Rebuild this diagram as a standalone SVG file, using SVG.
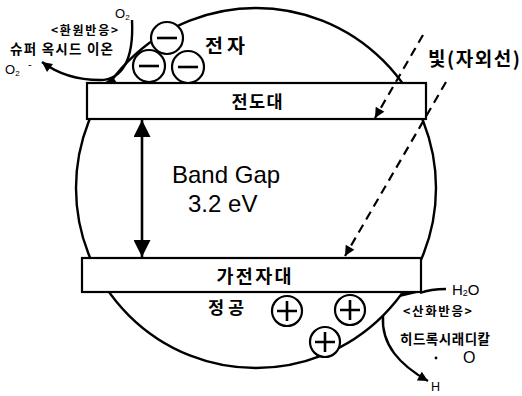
<svg xmlns="http://www.w3.org/2000/svg" width="522" height="396" viewBox="0 0 522 396">
<style>
.ln{fill:none;stroke:#000;stroke-width:2.4}
.band{fill:#fff;stroke:#000;stroke-width:2.2}
.pt{fill:#fff;stroke:#000;stroke-width:2.2}
.sg{stroke:#000;stroke-width:2.6;fill:none}
.ko{font-family:"Noto Sans CJK KR","Noto Sans",sans-serif;fill:#000;font-weight:700}
.en{font-family:"Liberation Sans",Arial,sans-serif;fill:#000}
.dash{fill:none;stroke:#000;stroke-width:2.2;stroke-dasharray:9 6}
</style>
<defs>
<marker id="ah" viewBox="0 0 10 10" refX="10" refY="5" markerWidth="12" markerHeight="10" markerUnits="userSpaceOnUse" orient="auto">
<path d="M0,0 L10,5 L0,10 z" fill="#000"/>
</marker>
<marker id="big" viewBox="0 0 10 10" refX="10" refY="5" markerWidth="25" markerHeight="17" markerUnits="userSpaceOnUse" orient="auto-start-reverse">
<path d="M0,0 L10,5 L0,10 z" fill="#000"/>
</marker>
</defs>
<rect width="522" height="396" fill="#fff"/>
<g id="particle">
<circle cx="256" cy="188" r="180" class="ln"/>
</g>
<g id="connectors">
<path class="ln" d="M132,20 C134,60 122,80 100,80 C78,80 58,74 42,62" marker-end="url(#ah)"/>
<polygon points="104,83 113,77 117,83" fill="#000"/>
<polygon points="400,297 421,292 403,292" fill="#000"/>
<path class="ln" d="M420,293 C428,290 436,289 446,289"/>
<path class="ln" d="M383,316 C381,345 400,365 428,381" marker-end="url(#ah)"/>
</g>
<g id="conduction-band">
<rect x="87" y="83" width="339" height="36" class="band"/>
<text x="257" y="108" class="ko" font-size="17.5" text-anchor="middle" textLength="51">전도대</text>
</g>
<g id="valence-band">
<rect x="82" y="258" width="339" height="34" class="band"/>
<text x="254" y="283" class="ko" font-size="18.5" text-anchor="middle" textLength="75">가전자대</text>
</g>
<g id="band-gap">
<line x1="142" y1="120" x2="142" y2="257" stroke="#000" stroke-width="2.6" marker-start="url(#big)" marker-end="url(#big)"/>
<text x="172" y="183" class="en" font-size="24">Band Gap</text>
<text x="188" y="212" class="en" font-size="24">3.2 eV</text>
</g>
<g id="electrons">
<circle cx="167" cy="38" r="16" class="pt"/>
<line x1="157" y1="38" x2="177" y2="38" class="sg"/>
<circle cx="149" cy="66" r="16" class="pt"/>
<line x1="139" y1="66" x2="159" y2="66" class="sg"/>
<circle cx="188" cy="67" r="16" class="pt"/>
<line x1="178" y1="67" x2="198" y2="67" class="sg"/>
<text x="205" y="53" class="ko" font-size="19.5" textLength="40">전자</text>
</g>
<g id="holes">
<circle cx="287" cy="311" r="15" class="pt"/>
<path d="M277,311 H297 M287,301 V321" class="sg"/>
<circle cx="350" cy="310" r="15" class="pt"/>
<path d="M340,310 H360 M350,300 V320" class="sg"/>
<circle cx="325" cy="342" r="15" class="pt"/>
<path d="M315,342 H335 M325,332 V352" class="sg"/>
<text x="208" y="314" class="ko" font-size="17.5" textLength="36">정공</text>
</g>
<g id="light">
<line x1="423" y1="35" x2="375" y2="118" class="dash" marker-end="url(#ah)"/>
<line x1="446" y1="82" x2="345" y2="256" class="dash" marker-end="url(#ah)"/>
<text x="428" y="66" class="ko" font-size="19" textLength="92">빛(자외선)</text>
</g>
<g id="reduction">
<text x="115" y="18" class="en" font-size="13">O<tspan font-size="8" dy="2">2</tspan></text>
<text x="51" y="35" class="ko" font-size="12" textLength="67">&lt;환원반응&gt;</text>
<text x="10" y="54" class="ko" font-size="13.5" textLength="103">슈퍼 옥시드 이온</text>
<text x="5" y="74" class="en" font-size="13">O<tspan font-size="8" dy="2">2</tspan></text>
<text x="28" y="68" class="en" font-size="11">-</text>
</g>
<g id="oxidation">
<text x="452" y="295" class="en" font-size="15">H<tspan font-size="9" dy="1">2</tspan><tspan dy="-1">O</tspan></text>
<text x="403" y="316" class="ko" font-size="12.5" textLength="69">&lt;산화반응&gt;</text>
<text x="400" y="344" class="ko" font-size="13.5" textLength="90">히드록시래디칼</text>
<circle cx="436" cy="358" r="1.4" fill="#000"/>
<text x="463" y="363" class="en" font-size="16">O</text>
<text x="431" y="391" class="en" font-size="12.5">H</text>
</g>
</svg>
